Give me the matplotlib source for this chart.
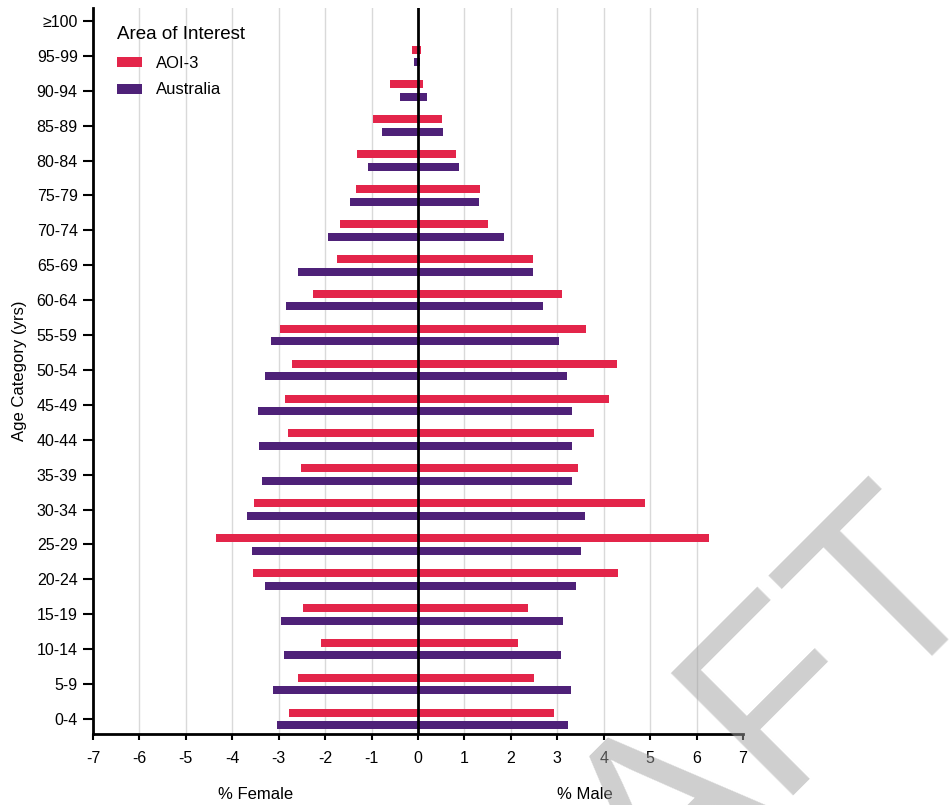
import matplotlib
matplotlib.use("Agg")
import matplotlib.pyplot as plt
import numpy as np

plt.rcParams['font.family'] = ['Liberation Sans', 'DejaVu Sans']

age_groups = ['0-4', '5-9', '10-14', '15-19', '20-24', '25-29', '30-34', '35-39',
              '40-44', '45-49', '50-54', '55-59', '60-64', '65-69', '70-74',
              '75-79', '80-84', '85-89', '90-94', '95-99', '\u2265100']

aoi_female = [2.77, 2.59, 2.10, 2.48, 3.56, 4.35, 3.53, 2.53, 2.80, 2.87, 2.72,
              2.98, 2.26, 1.75, 1.67, 1.33, 1.31, 0.97, 0.60, 0.13, 0.0]
aus_female = [3.04, 3.12, 2.88, 2.96, 3.29, 3.58, 3.69, 3.35, 3.43, 3.45, 3.30,
              3.17, 2.84, 2.59, 1.94, 1.46, 1.08, 0.78, 0.39, 0.09, 0.0]
aoi_male = [2.93, 2.49, 2.16, 2.36, 4.31, 6.27, 4.89, 3.44, 3.79, 4.11, 4.29,
            3.61, 3.10, 2.47, 1.51, 1.34, 0.82, 0.51, 0.11, 0.06, 0.0]
aus_male = [3.22, 3.29, 3.07, 3.12, 3.41, 3.52, 3.59, 3.31, 3.32, 3.31, 3.21,
            3.03, 2.70, 2.48, 1.85, 1.31, 0.88, 0.54, 0.20, 0.04, 0.0]

x_ticks = [-7, -6, -5, -4, -3, -2, -1, 0, 1, 2, 3, 4, 5, 6, 7]
series_names = ['AOI-3', 'Australia']

C_AOI = '#E3254A'
C_AUS = '#4E2178'

W, H = 949, 805
fig = plt.figure(figsize=(W / 100, H / 100), dpi=100)
ax = fig.add_axes([93 / W, 71 / H, 650 / W, 726 / H])

y = np.arange(len(age_groups))
off = 0.18
bh = 0.23

# grid lines (light) except at 0 and the limits
for gx in x_ticks:
    if gx not in (0, -7, 7):
        ax.axvline(gx, color='#d9d9d9', lw=1.0, zorder=0)

ax.barh(y + off, -np.array(aoi_female), height=bh, color=C_AOI, zorder=2, label=series_names[0])
ax.barh(y + off, aoi_male, height=bh, color=C_AOI, zorder=2)
ax.barh(y - off, -np.array(aus_female), height=bh, color=C_AUS, zorder=2, label=series_names[1])
ax.barh(y - off, aus_male, height=bh, color=C_AUS, zorder=2)

ax.axvline(0, color='black', lw=2.0, zorder=3)

ax.set_xlim(-7, 7)
ax.set_ylim(-0.43, 20.37)
ax.set_xticks(x_ticks)
ax.set_xticklabels([str(t) for t in x_ticks])
ax.set_yticks(y)
ax.set_yticklabels(age_groups)

for s in ['top', 'right']:
    ax.spines[s].set_visible(False)
for s in ['left', 'bottom']:
    ax.spines[s].set_linewidth(2.0)
    ax.spines[s].set_color('black')

ax.tick_params(axis='x', length=4.5, width=1.5, pad=7.5, labelsize=11.5, colors='black')
ax.tick_params(axis='y', length=7, width=1.5, pad=4, labelsize=11.5, colors='black')

ax.set_ylabel('Age Category (yrs)', fontsize=12)
ax.yaxis.set_label_coords(-0.102, 0.5)

ax.text(-3.5, -0.083, '% Female', transform=ax.get_xaxis_transform(), ha='center', va='center', fontsize=12)
ax.text(3.6, -0.083, '% Male', transform=ax.get_xaxis_transform(), ha='center', va='center', fontsize=12)

leg = ax.legend(title='Area of Interest', loc='upper left', bbox_to_anchor=(117 / W, 1 - 26 / H),
                bbox_transform=fig.transFigure, frameon=False, fontsize=12, title_fontsize=13.5,
                handlelength=1.5, handleheight=0.55, handletextpad=0.85, labelspacing=0.72,
                alignment='left', borderaxespad=0, borderpad=0)
leg._legend_box.sep = 9

fig.text(400 / W, 1 - 1168 / H, 'DRAFT', rotation=45, rotation_mode='anchor', ha='left',
         va='baseline', fontsize=180, color='#a0a0a0', alpha=0.5, zorder=10)

fig.savefig('out.png', dpi=100)
